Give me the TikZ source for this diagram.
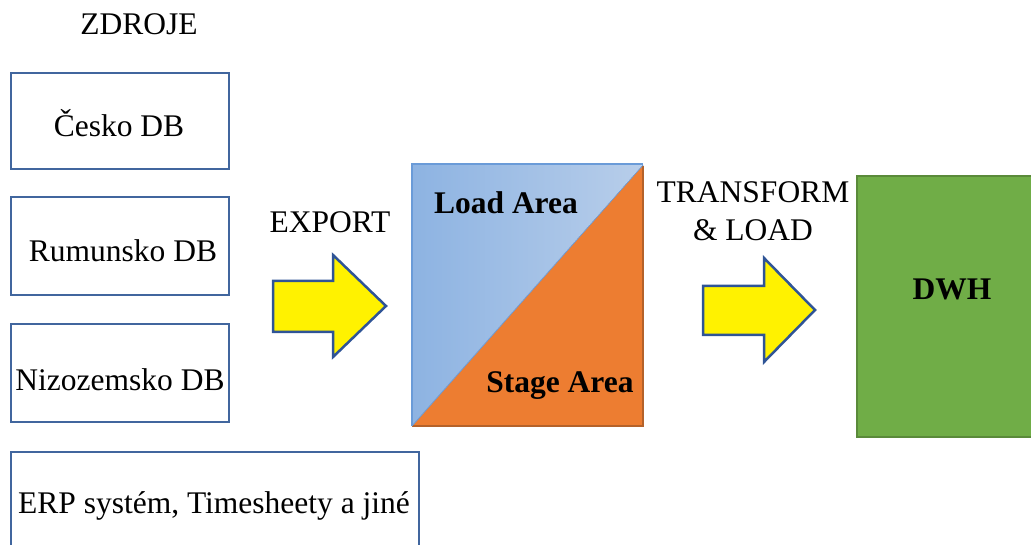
\documentclass[tikz,border=0pt]{standalone}
\usepackage{fontspec}
\setmainfont{Liberation Serif}
\definecolor{boxblue}{HTML}{41669E}
\definecolor{arrowblue}{HTML}{2F5496}
\definecolor{areaL}{HTML}{8DB3E2}
\definecolor{areaR}{HTML}{B8CEEA}
\definecolor{areaedge}{HTML}{6A9BD8}
\definecolor{stage}{HTML}{ED7D31}
\definecolor{stageedge}{HTML}{B5622A}
\definecolor{dwhfill}{HTML}{70AD47}
\definecolor{dwhedge}{HTML}{5A8A3A}
\begin{document}
\begin{tikzpicture}[x=1pt,y=-1pt,
  srcbox/.style={draw=boxblue, line width=2.5pt, inner sep=0pt, rectangle},
  lbl/.style={font=\fontsize{31.5}{36}\selectfont, anchor=base, inner sep=0pt},
  blbl/.style={font=\fontsize{31.5}{36}\selectfont\bfseries, anchor=base, inner sep=0pt},
  bigarrow/.style={draw=arrowblue, fill=yellow, line width=2.5pt, line join=miter}]
\useasboundingbox (0,0) rectangle (1031,545);
\clip (0,0) rectangle (1031,545);

% source systems
\node[lbl] (zdroje) at (139,35) {ZDROJE};
\node[srcbox, minimum width=218pt, minimum height=96pt] (cz) at (120,121) {};
\node[lbl] (czl) at (119,137) {Česko DB};
\node[srcbox, minimum width=218pt, minimum height=98pt] (ro) at (120,246) {};
\node[lbl] (rol) at (123,262) {Rumunsko DB};
\node[srcbox, minimum width=218pt, minimum height=98pt] (nl) at (120,373) {};
\node[lbl] (nll) at (120,390) {Nizozemsko DB};
\node[srcbox, minimum width=408pt, minimum height=110pt] (erp) at (215,507) {};
\node[lbl] (erpl) at (214,513) {ERP systém, Timesheety a jiné};

% export step
\node[lbl] (export) at (330,233) {EXPORT};
\draw[bigarrow] (273,281) -- (333,281) -- (333,255) -- (386,306)
  -- (333,357) -- (333,332) -- (273,332) -- cycle;

% load / stage area
\shade[left color=areaL, right color=areaR] (412,164) -- (643,164) -- (412,426) -- cycle;
\draw[areaedge, line width=1.5pt] (412,426) -- (412,164) -- (643,164);
\fill[stage] (412,426) -- (643,165) -- (643,426) -- cycle;
\draw[stageedge, line width=2pt] (643,166) -- (643,426) -- (412,426);
\draw[areaedge, line width=0.8pt] (412,426) -- (643,165);
\node[blbl] (load) at (506,214) {Load Area};
\node[blbl] (stagearea) at (560,392) {Stage Area};

% transform & load step
\node[lbl] (tr1) at (753,203) {TRANSFORM};
\node[lbl] (tr2) at (753,241) {\& LOAD};
\draw[bigarrow] (703,286) -- (764,286) -- (764,258) -- (815,310)
  -- (764,362) -- (764,335) -- (703,335) -- cycle;

% data warehouse
\node[draw=dwhedge, fill=dwhfill, line width=2.5pt, inner sep=0pt,
  minimum width=200pt, minimum height=261pt] (dwh) at (957,306.5) {};
\node[blbl] (dwhl) at (952,300) {DWH};
\end{tikzpicture}
\end{document}
